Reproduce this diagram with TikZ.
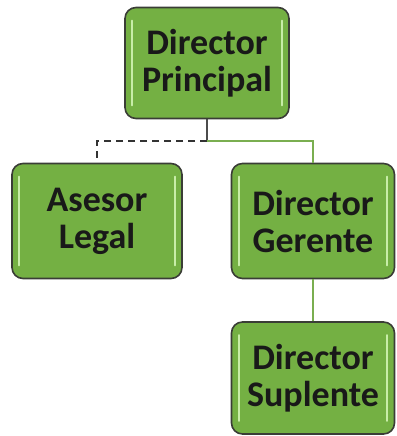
\documentclass[tikz,border=0pt]{standalone}
\usepackage{fontspec}
\setmainfont{Carlito}
\definecolor{boxgreen}{HTML}{74B043}
\definecolor{boxedge}{HTML}{3A3D36}
\definecolor{hilite}{HTML}{C8EDA8}
\definecolor{linkgreen}{HTML}{7AAE50}
\tikzset{
  orgbox/.style={rounded corners=11pt, draw=boxedge, line width=1.6pt, fill=boxgreen,
    font=\fontsize{36}{37}\selectfont\bfseries, align=center, text=black!90,
    minimum width=164pt, minimum height=113pt, inner sep=0pt},
  hl/.style={hilite, line width=2.2pt, line cap=round},
  solidlink/.style={linkgreen, line width=1.4pt},
  dashlink/.style={black!80, line width=1.6pt, dashed, dash pattern=on 7pt off 5pt}
}
\begin{document}
\begin{tikzpicture}[x=1pt,y=1pt]
\useasboundingbox (0,0) rectangle (396,-436);
\node[orgbox, minimum height=111pt] (dp) at (207,-63) {Director\\Principal};
\node[orgbox, minimum width=170pt, minimum height=115pt] (al) at (97,-221) {Asesor\\Legal};
\node[orgbox, minimum width=163pt, minimum height=115pt] (dg) at (313,-221) {Director\\Gerente};
\node[orgbox, minimum width=163pt, minimum height=112pt] (ds) at (313,-378) {Director\\Suplente};
\foreach \n in {dp,al,dg,ds}{
  \draw[hl] ([xshift=8pt,yshift=-14pt]\n.north west) -- ([xshift=8pt,yshift=14pt]\n.south west);
  \draw[hl] ([xshift=-8pt,yshift=-14pt]\n.north east) -- ([xshift=-8pt,yshift=14pt]\n.south east);
}
\coordinate (j) at (207,-141);
\draw[black!70, line width=1.4pt] (dp.south) -- (j);
\draw[dashlink] (j) -| (al.north);
\draw[solidlink] (j) -| (dg.north);
\draw[solidlink] (dg.south) -- (ds.north);
\end{tikzpicture}
\end{document}
